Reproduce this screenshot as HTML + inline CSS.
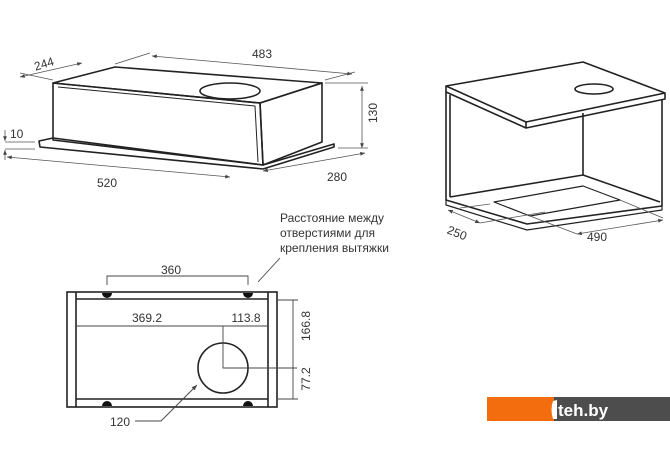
<!DOCTYPE html>
<html><head><meta charset="utf-8"><style>
html,body{margin:0;padding:0;background:#fff;width:670px;height:471px;overflow:hidden}
svg{display:block}
text{font-family:"Liberation Sans","DejaVu Sans",sans-serif;fill:#333;font-size:12px}
</style></head><body>
<svg width="670" height="471" viewBox="0 0 670 471" xmlns="http://www.w3.org/2000/svg">
<defs>
<marker id="a" viewBox="0 0 10 10" refX="10" refY="5" markerWidth="6" markerHeight="6" orient="auto-start-reverse"><path d="M0,1 L10,5 L0,9 z" fill="#444"/></marker>
</defs>
<g fill="none" stroke="#222" stroke-width="1.6" stroke-linejoin="round">
<!-- top-left box -->
<polygon points="53,83 115,67 322,83 260,103"/>
<polygon points="53,83 260,103 263,165 53,140"/>
<polygon points="260,103 322,83 322,142 263,165"/>
<path d="M58,87 L255,106 L258,162" stroke-width="1"/>
<polygon points="39,141 53,138 263,165 334,144 334,147 263,169 40,147"/>
<ellipse cx="230" cy="91" rx="30" ry="8"/>
</g>
<g stroke="#555" stroke-width="0.8" fill="none">
<line x1="152" y1="56" x2="352" y2="74" marker-start="url(#a)" marker-end="url(#a)"/>
<line x1="115" y1="64" x2="150" y2="53"/><line x1="325" y1="80" x2="355" y2="72"/>
<line x1="20" y1="77" x2="82" y2="63" marker-start="url(#a)" marker-end="url(#a)"/>
<line x1="53" y1="80" x2="20" y2="73"/>
<line x1="362" y1="86" x2="362" y2="148" marker-start="url(#a)" marker-end="url(#a)"/>
<line x1="325" y1="83" x2="368" y2="83"/><line x1="338" y1="148" x2="368" y2="148"/>
<line x1="7" y1="157" x2="230" y2="177" marker-start="url(#a)" marker-end="url(#a)"/>
<line x1="263" y1="171" x2="365" y2="153" marker-start="url(#a)" marker-end="url(#a)"/>
<line x1="5" y1="142" x2="35" y2="142"/><line x1="5" y1="149" x2="35" y2="149"/>
<line x1="5" y1="130" x2="5" y2="141" marker-end="url(#a)"/>
<line x1="5" y1="160" x2="5" y2="150" marker-end="url(#a)"/>
</g>
<text x="262" y="58" text-anchor="middle">483</text>
<text x="44" y="68" text-anchor="middle" transform="rotate(-17 44 64)">244</text>
<text x="377" y="121" text-anchor="middle" transform="rotate(-90 373 117)">130</text>
<text x="107" y="187" text-anchor="middle">520</text>
<text x="337" y="181" text-anchor="middle">280</text>
<text x="10" y="138">10</text>

<!-- right box -->
<g fill="none" stroke="#222" stroke-width="1.6" stroke-linejoin="round">
<polygon points="446,86 583,62 665,93 526,122"/>
<path d="M446,86 L446,92 L526,128 L665,99 L665,93"/>
<path d="M526,122 L526,128"/>
<path d="M446,92 L446,200 L527,224 L662,206 L662,99"/>
<path d="M450,95 L450,197"/>
<path d="M583,113 L583,175"/>
<path d="M450,197 L583,175 L660,202"/>
<path d="M446,200 L446,205 L527,230 L662,210 L662,206" stroke-width="1.2"/>
<polygon points="494,202 583,186 620,200 530,216" stroke-width="1.2"/>
<ellipse cx="594" cy="89" rx="19" ry="5"/>
</g>
<g stroke="#555" stroke-width="0.8" fill="none">
<line x1="448" y1="210" x2="480" y2="223" marker-start="url(#a)" marker-end="url(#a)"/>
<line x1="577" y1="234" x2="663" y2="220" marker-start="url(#a)" marker-end="url(#a)"/>
<line x1="480" y1="223" x2="545" y2="212"/><line x1="490" y1="204" x2="460" y2="208"/>
<line x1="530" y1="216" x2="577" y2="234"/><line x1="620" y1="200" x2="663" y2="218"/>
</g>
<text x="457" y="237" text-anchor="middle" transform="rotate(22 457 233)">250</text>
<text x="597" y="241" text-anchor="middle">490</text>

<!-- plan view -->
<g fill="none" stroke="#222" stroke-width="1.6">
<rect x="67" y="292" width="210" height="115"/>
<line x1="76" y1="292" x2="76" y2="407"/><line x1="268" y1="292" x2="268" y2="407"/>
<line x1="76" y1="299" x2="268" y2="299"/><line x1="76" y1="399" x2="268" y2="399"/>
<circle cx="223" cy="368" r="25"/>
</g>
<g fill="#111">
<path d="M102,293 a5,5 0 0 0 10,0 z"/><path d="M243,293 a5,5 0 0 0 10,0 z"/>
<path d="M102,406 a5,5 0 0 1 10,0 z"/><path d="M243,406 a5,5 0 0 1 10,0 z"/>
</g>
<g stroke="#444" stroke-width="0.9" fill="none">
<path d="M107,285 L107,276 L248,276 L248,285"/>
<line x1="76" y1="326" x2="268" y2="326"/>
<path d="M223,326 L223,368 L297,368"/>
<line x1="278" y1="300" x2="298" y2="300"/><line x1="278" y1="399" x2="298" y2="399"/>
<line x1="293" y1="300" x2="293" y2="399"/>
<path d="M135,421 L161,421 L197,385" marker-end="url(#a)"/>
<line x1="280" y1="258" x2="258" y2="282"/>
</g>
<text x="171" y="274" text-anchor="middle">360</text>
<text x="147" y="322" text-anchor="middle">369.2</text>
<text x="246" y="322" text-anchor="middle">113.8</text>
<text x="310" y="334" text-anchor="middle" transform="rotate(-90 306 330)">166.8</text>
<text x="310" y="387" text-anchor="middle" transform="rotate(-90 306 383)">77.2</text>
<text x="120" y="426" text-anchor="middle">120</text>
<text x="280" y="222" font-size="11.5">Расстояние между</text>
<text x="280" y="237" font-size="11.5">отверстиями для</text>
<text x="280" y="252" font-size="11.5">крепления вытяжки</text>

<!-- logo -->
<rect x="487" y="397" width="67" height="24" fill="#f36d0f"/>
<rect x="554" y="397" width="116" height="24" fill="#4d4d4d"/>
<path d="M553,401 l4,-1 l0,19 l-4,0 q-3,-9 0,-18z" fill="#fff"/>
<text x="558" y="416" style="fill:#fff;font-size:17px;font-weight:bold">teh.by</text>
</svg>
</body></html>
